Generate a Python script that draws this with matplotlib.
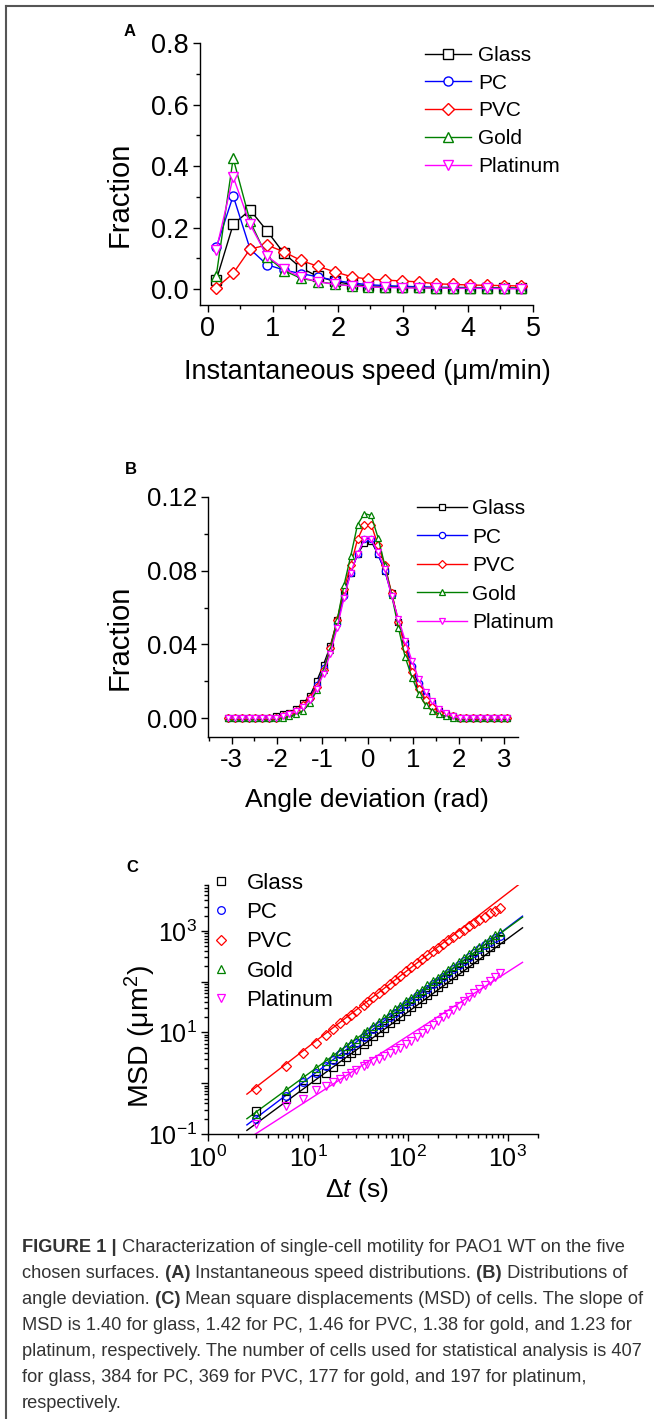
import matplotlib
matplotlib.use('Agg')
import matplotlib.pyplot as plt
from matplotlib.lines import Line2D
from matplotlib.ticker import MultipleLocator, FixedLocator, LogLocator, NullFormatter, FormatStrFormatter, FuncFormatter
from matplotlib import font_manager
import numpy as np

plt.rcParams['font.family'] = ['Liberation Sans', 'DejaVu Sans']
plt.rcParams['mathtext.fontset'] = 'custom'
plt.rcParams['mathtext.rm'] = 'Liberation Sans'
plt.rcParams['mathtext.it'] = 'Liberation Sans:italic'
plt.rcParams['mathtext.bf'] = 'Liberation Sans:bold'
plt.rcParams['axes.unicode_minus'] = False

# ---- data ----
names = ['Glass', 'PC', 'PVC', 'Gold', 'Platinum']
colors = ['#000000', '#0000ff', '#ff0000', '#008000', '#ff00ff']
markers = ['s', 'o', 'D', '^', 'v']

# (A) instantaneous speed distributions
speed = [0.13, 0.39, 0.65, 0.91, 1.17, 1.43, 1.69, 1.95, 2.21, 2.47,
         2.73, 2.99, 3.25, 3.51, 3.77, 4.03, 4.29, 4.55, 4.81]
speed_glass = [0.029, 0.210, 0.257, 0.189, 0.116, 0.069, 0.041, 0.025, 0.015, 0.010,
               0.008, 0.006, 0.005, 0.004, 0.004, 0.003, 0.003, 0.002, 0.002]
speed_pc = [0.135, 0.303, 0.130, 0.079, 0.062, 0.050, 0.040, 0.028, 0.020, 0.014,
            0.011, 0.009, 0.007, 0.006, 0.005, 0.005, 0.004, 0.004, 0.003]
speed_pvc = [0.004, 0.051, 0.130, 0.143, 0.121, 0.093, 0.074, 0.056, 0.040, 0.032,
             0.029, 0.026, 0.023, 0.017, 0.015, 0.013, 0.012, 0.011, 0.010]
speed_gold = [0.043, 0.425, 0.220, 0.105, 0.060, 0.035, 0.024, 0.016, 0.011, 0.008,
              0.006, 0.005, 0.005, 0.004, 0.004, 0.003, 0.003, 0.003, 0.002]
speed_plat = [0.127, 0.365, 0.210, 0.107, 0.066, 0.038, 0.024, 0.015, 0.010, 0.007,
              0.005, 0.004, 0.003, 0.003, 0.002, 0.002, 0.002, 0.001, 0.001]

# (B) angle deviation distributions
angle = [-3.075, -2.925, -2.775, -2.625, -2.475, -2.325, -2.175, -2.025, -1.875, -1.725,
         -1.575, -1.425, -1.275, -1.125, -0.975, -0.825, -0.675, -0.525, -0.375, -0.225,
         -0.075, 0.075, 0.225, 0.375, 0.525, 0.675, 0.825, 0.975, 1.125, 1.275,
         1.425, 1.575, 1.725, 1.875, 2.025, 2.175, 2.325, 2.475, 2.625, 2.775,
         2.925, 3.075]
angle_glass = [0, 0, 0, 0, 0, 0, 0, 0.001, 0.002, 0.003,
               0.005, 0.008, 0.012, 0.020, 0.029, 0.039, 0.053, 0.068, 0.079, 0.089,
               0.095, 0.096, 0.089, 0.080, 0.068, 0.052, 0.041, 0.027, 0.018, 0.012,
               0.008, 0.004, 0.002, 0.001, 0, 0, 0, 0, 0, 0, 0, 0]
angle_pc = [0, 0, 0, 0, 0, 0, 0, 0, 0.001, 0.002,
            0.004, 0.007, 0.011, 0.018, 0.027, 0.038, 0.051, 0.066, 0.079, 0.089,
            0.097, 0.097, 0.089, 0.080, 0.067, 0.052, 0.040, 0.028, 0.019, 0.012,
            0.008, 0.004, 0.002, 0.001, 0, 0, 0, 0, 0, 0, 0, 0]
angle_pvc = [0, 0, 0, 0, 0, 0, 0, 0, 0.001, 0.002,
             0.004, 0.007, 0.011, 0.017, 0.026, 0.038, 0.053, 0.070, 0.083, 0.097,
             0.105, 0.105, 0.094, 0.083, 0.068, 0.052, 0.038, 0.025, 0.016, 0.010,
             0.006, 0.003, 0.002, 0.001, 0, 0, 0, 0, 0, 0, 0, 0]
angle_gold = [0, 0, 0, 0, 0, 0, 0, 0, 0, 0.001,
              0.002, 0.004, 0.008, 0.015, 0.026, 0.037, 0.053, 0.072, 0.088, 0.105,
              0.111, 0.110, 0.098, 0.083, 0.067, 0.049, 0.033, 0.022, 0.013, 0.007,
              0.004, 0.002, 0.001, 0, 0, 0, 0, 0, 0, 0, 0, 0]
angle_plat = [0, 0, 0, 0, 0, 0, 0, 0, 0.001, 0.002,
              0.004, 0.006, 0.010, 0.016, 0.024, 0.035, 0.049, 0.065, 0.079, 0.089,
              0.097, 0.097, 0.090, 0.081, 0.066, 0.054, 0.042, 0.031, 0.021, 0.014,
              0.009, 0.005, 0.003, 0.001, 0, 0, 0, 0, 0, 0, 0, 0]

# (C) mean square displacement
lag = [3, 6, 9, 12, 15, 18, 21, 24, 27, 30,
       36, 39, 45, 51, 57, 66, 75, 84, 96, 108,
       123, 138, 156, 177, 198, 225, 252, 285, 321, 363,
       408, 459, 519, 585, 660, 744, 837]
msd_glass = [0.28, 0.48, 0.82, 1.2, 1.62, 2.1, 2.7, 3.3, 3.9, 4.6,
             6.0, 6.8, 8.4, 10.2, 12.0, 15.0, 18.1, 21.4, 26.2, 31.3,
             38, 45, 54, 66, 78, 94, 111, 134, 161, 193,
             230, 274, 330, 394, 473, 566, 676]
msd_pc = [0.20, 0.57, 1.04, 1.6, 2.23, 2.93, 3.69, 4.5, 5.36, 6.28,
          8.2, 9.3, 11.5, 13.9, 16.3, 20.4, 24.6, 29.1, 35.5, 42.3,
          51.4, 61, 73, 88, 104, 126, 149, 180, 215, 258,
          307, 366, 439, 520, 610, 710, 800]
msd_pvc = [0.76, 2.2, 4.0, 6.2, 8.8, 11.8, 15, 18.5, 22.5, 26.5,
           35, 40, 50, 61, 73, 91, 110, 131, 160, 190,
           232, 275, 330, 395, 465, 555, 650, 770, 900, 1050,
           1230, 1420, 1650, 1900, 2200, 2500, 2800]
msd_gold = [0.25, 0.73, 1.3, 1.97, 2.7, 3.5, 4.4, 5.3, 6.3, 7.4,
            9.6, 10.8, 13.4, 16.2, 19.0, 23.6, 28.3, 33.5, 40.8, 48.5,
            59, 70, 84, 101, 120, 144, 171, 205, 244, 292,
            346, 412, 492, 585, 697, 828, 960]
msd_plat = [0.16, 0.35, 0.50, 0.72, 0.89, 1.07, 1.23, 1.41, 1.58, 1.78,
            2.14, 2.34, 2.69, 3.02, 3.39, 3.89, 4.47, 5.0, 5.9, 6.9,
            8.3, 9.8, 11.7, 14.1, 16.6, 20, 23.4, 28.2, 33.9, 40.7,
            49, 59, 71, 85, 102, 123, 148]
fit_lag = [2.45, 1400]
fit_glass = [0.118, 1150]
fit_pc = [0.151, 1950]
fit_pvc = [0.61, 9300]
fit_gold = [0.200, 1860]
fit_plat = [0.078, 240]

caption = [
    [('FIGURE 1 |', True), (' Characterization of single-cell motility for PAO1 WT on the five', False)],
    [('chosen surfaces.', False), (' (A)', True), (' Instantaneous speed distributions.', False), (' (B)', True), (' Distributions of', False)],
    [('angle deviation.', False), (' (C)', True), (' Mean square displacements (MSD) of cells. The slope of', False)],
    [('MSD is 1.40 for glass, 1.42 for PC, 1.46 for PVC, 1.38 for gold, and 1.23 for', False)],
    [('platinum, respectively. The number of cells used for statistical analysis is 407', False)],
    [('for glass, 384 for PC, 369 for PVC, 177 for gold, and 197 for platinum,', False)],
    [('respectively.', False)],
]

# ---- figure ----
W, H = 654, 1419
fig = plt.figure(figsize=(W / 100, H / 100), dpi=100)


def box(l, t, r, b):
    return [l / W, 1 - b / H, (r - l) / W, (b - t) / H]


def ftext(x, y, s, **kw):
    return fig.text(x / W, 1 - y / H, s, **kw)


def style(ax, size):
    ax.spines['top'].set_visible(False)
    ax.spines['right'].set_visible(False)
    ax.spines['left'].set_linewidth(1.0)
    ax.spines['bottom'].set_linewidth(1.0)
    ax.tick_params(which='major', direction='out', length=5, width=1, labelsize=size, pad=3)
    ax.tick_params(which='minor', direction='out', length=3, width=1)


# panel A
axA = fig.add_axes(box(200, 43, 533, 305))
for ys, n, c, m in zip([speed_glass, speed_pc, speed_pvc, speed_gold, speed_plat], names, colors, markers):
    axA.plot(speed, ys, color=c, marker=m, ms=6.5 if m != 'D' else 6, mfc='white', mec=c, mew=1, lw=1, label=n)
axA.set_xlim(-0.12, 5)
axA.set_ylim(-0.052, 0.8)
axA.xaxis.set_major_locator(MultipleLocator(1))
axA.xaxis.set_minor_locator(MultipleLocator(0.5))
axA.yaxis.set_major_locator(MultipleLocator(0.2))
axA.yaxis.set_minor_locator(MultipleLocator(0.1))
axA.yaxis.set_major_formatter(FormatStrFormatter('%.1f'))
style(axA, 19.5)
axA.legend(loc='upper left', bbox_to_anchor=(425 / W, 1 - 46 / H), bbox_transform=fig.transFigure,
           frameon=False, fontsize=15, handlelength=2.2, handletextpad=0.35, labelspacing=0.42,
           borderpad=0, borderaxespad=0)
ftext(367, 372, 'Instantaneous speed (μm/min)', fontsize=19.5, ha='center', va='center')
ftext(120, 194, 'Fraction', fontsize=21, rotation=90, ha='center', va='center')
ftext(130, 31, 'A', fontsize=12, fontweight='bold', ha='center', va='center')

# panel B
axB = fig.add_axes(box(208, 497, 518, 737))
for ys, n, c, m in zip([angle_glass, angle_pc, angle_pvc, angle_gold, angle_plat], names, colors, markers):
    axB.plot(angle, ys, color=c, marker=m, ms=4.5 if m != 'D' else 4, mfc='white', mec=c, mew=0.9, lw=1, label=n)
axB.set_xlim(-3.52, 3.31)
axB.set_ylim(-0.0103, 0.12)
axB.xaxis.set_major_locator(MultipleLocator(1))
axB.xaxis.set_minor_locator(MultipleLocator(0.5))
axB.yaxis.set_major_locator(MultipleLocator(0.04))
axB.yaxis.set_minor_locator(MultipleLocator(0.02))
axB.yaxis.set_major_formatter(FormatStrFormatter('%.2f'))
axB.xaxis.set_major_formatter(FormatStrFormatter('%d'))
style(axB, 18.5)
axB.legend(loc='upper left', bbox_to_anchor=(417 / W, 1 - 499 / H), bbox_transform=fig.transFigure,
           frameon=False, fontsize=15, handlelength=2.4, handletextpad=0.25, labelspacing=0.46,
           borderpad=0, borderaxespad=0)
ftext(367, 800, 'Angle deviation (rad)', fontsize=19, ha='center', va='center')
ftext(120, 637, 'Fraction', fontsize=21, rotation=90, ha='center', va='center')
ftext(131, 470, 'B', fontsize=12, fontweight='bold', ha='center', va='center')

# panel C
axC = fig.add_axes(box(208, 885, 538, 1134))
for fy, c in zip([fit_glass, fit_pc, fit_pvc, fit_gold, fit_plat], colors):
    axC.plot(fit_lag, fy, color=c, lw=1)
for ys, n, c, m in zip([msd_glass, msd_pc, msd_pvc, msd_gold, msd_plat], names, colors, markers):
    axC.plot(lag, ys, ls='none', marker=m, ms=5.5 if m != 'D' else 5, mfc='none', mec=c, mew=0.9, label=n)
axC.set_xscale('log')
axC.set_yscale('log')
axC.set_xlim(1, 2000)
axC.set_ylim(0.1, 8000)
axC.xaxis.set_major_locator(FixedLocator([1, 10, 100, 1000]))
axC.xaxis.set_minor_locator(LogLocator(base=10, subs=np.arange(2, 10)))
axC.xaxis.set_minor_formatter(NullFormatter())
axC.yaxis.set_major_locator(FixedLocator([0.1, 1, 10, 100, 1000]))
axC.yaxis.set_minor_locator(LogLocator(base=10, subs=np.arange(2, 10)))
axC.yaxis.set_minor_formatter(NullFormatter())


def pow_label(v, pos):
    return '$\\mathdefault{10^{%d}}$' % int(round(np.log10(v)))


def pow_label_odd(v, pos):
    e = int(round(np.log10(v)))
    return '$\\mathdefault{10^{%d}}$' % e if e % 2 else ''


axC.xaxis.set_major_formatter(FuncFormatter(pow_label))
axC.yaxis.set_major_formatter(FuncFormatter(pow_label_odd))
style(axC, 18)
axC.legend(loc='upper left', bbox_to_anchor=(212 / W, 1 - 873 / H), bbox_transform=fig.transFigure,
           frameon=False, fontsize=16, handlelength=0.8, handletextpad=0.75, labelspacing=0.37,
           borderpad=0, borderaxespad=0, numpoints=1)
ftext(357, 1190, 'Δ$\\mathit{t}$ (s)', fontsize=19, ha='center', va='center')
ftext(140, 1037, 'MSD (μm$^2$)', fontsize=20.5, rotation=90, ha='center', va='center')
ftext(132, 867, 'C', fontsize=12, fontweight='bold', ha='center', va='center')

# caption, sized so the widest line spans the text block
avail = {f.name for f in font_manager.fontManager.ttflist}
cap_font = 'Liberation Sans Narrow' if 'Liberation Sans Narrow' in avail else 'Liberation Sans'
renderer = fig.canvas.get_renderer()
probe = ftext(22, 1300, caption[3][0][0], fontsize=13, family=cap_font)
cap_size = 13 * 606 / probe.get_window_extent(renderer).width
probe.remove()
for i, parts in enumerate(caption):
    x = 22
    y = 1247 + 26 * i
    for s, bold in parts:
        t = ftext(x, y, s, fontsize=cap_size, family=cap_font, fontweight='bold' if bold else 'normal',
                  color='#333333', ha='left', va='center')
        x = t.get_window_extent(renderer).x1

# frame
fig.add_artist(Line2D([6 / W, 1], [1 - 6 / H, 1 - 6 / H], transform=fig.transFigure, color='#555555', lw=1.5))
fig.add_artist(Line2D([6 / W, 6 / W], [0, 1 - 6 / H], transform=fig.transFigure, color='#555555', lw=1.5))

fig.savefig('out.png', dpi=100)
